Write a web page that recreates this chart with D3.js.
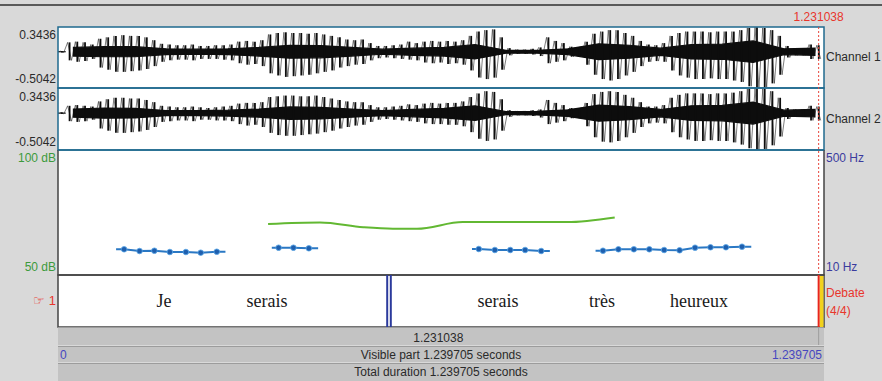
<!DOCTYPE html>
<html>
<head>
<meta charset="utf-8">
<title>Sound editor view</title>
<script src="https://d3js.org/d3.v7.min.js"></script>
<style>
  body { margin: 0; background: #d9d9d9; }
  svg { display: block; font-family: "Liberation Sans", Arial, sans-serif; }
</style>
</head>
<body>
<svg id="chart" width="882" height="381"></svg>
<script>
// ---- data ----
const duration = 1.239705;
const cursorTime = 1.231038;
const ampMax = 0.3436, ampMin = -0.5042;

// waveform peaks, one pair per 12.5 ms bin
const waveStep = 0.0125;
const ch1Hi = [0.01,0.13,0.14,0.13,0.10,0.18,0.20,0.22,0.23,0.22,
  0.22,0.20,0.16,0.11,0.10,0.09,0.09,0.10,0.08,0.08,
  0.09,0.09,0.10,0.14,0.15,0.14,0.16,0.24,0.26,0.27,
  0.26,0.26,0.25,0.26,0.24,0.22,0.20,0.17,0.16,0.17,
  0.12,0.08,0.08,0.09,0.10,0.14,0.12,0.14,0.15,0.14,
  0.15,0.14,0.16,0.22,0.28,0.30,0.31,0.20,0.05,0.03,
  0.03,0.04,0.06,0.20,0.15,0.12,0.07,0.06,0.14,0.25,
  0.28,0.30,0.30,0.26,0.22,0.15,0.10,0.09,0.12,0.22,
  0.26,0.28,0.28,0.28,0.27,0.28,0.28,0.28,0.30,0.33,
  0.34,0.33,0.30,0.22,0.08,0.05,0.05,0.10,0.09];
const ch1Lo = [-0.01,-0.12,-0.14,-0.13,-0.10,-0.22,-0.25,-0.28,-0.28,-0.27,
  -0.26,-0.24,-0.20,-0.14,-0.12,-0.11,-0.11,-0.12,-0.10,-0.10,
  -0.10,-0.11,-0.12,-0.16,-0.18,-0.17,-0.20,-0.30,-0.33,-0.35,
  -0.34,-0.33,-0.32,-0.30,-0.28,-0.26,-0.22,-0.20,-0.18,-0.17,
  -0.12,-0.09,-0.08,-0.09,-0.10,-0.11,-0.12,-0.15,-0.16,-0.15,
  -0.17,-0.16,-0.18,-0.26,-0.36,-0.38,-0.36,-0.25,-0.05,-0.03,
  -0.03,-0.04,-0.06,-0.16,-0.14,-0.12,-0.07,-0.06,-0.18,-0.32,
  -0.38,-0.40,-0.38,-0.33,-0.28,-0.20,-0.14,-0.13,-0.14,-0.26,
  -0.33,-0.36,-0.38,-0.38,-0.37,-0.38,-0.38,-0.40,-0.42,-0.48,
  -0.50,-0.49,-0.44,-0.32,-0.08,-0.05,-0.05,-0.10,-0.10];
const ch2Hi = [0.01,0.10,0.11,0.10,0.09,0.16,0.19,0.21,0.21,0.20,
  0.20,0.18,0.15,0.10,0.09,0.08,0.08,0.09,0.08,0.07,
  0.08,0.09,0.10,0.13,0.14,0.14,0.15,0.22,0.23,0.24,
  0.24,0.23,0.23,0.24,0.22,0.20,0.18,0.16,0.15,0.15,
  0.11,0.08,0.08,0.09,0.10,0.12,0.11,0.13,0.14,0.13,
  0.14,0.14,0.16,0.22,0.27,0.30,0.29,0.19,0.04,0.03,
  0.03,0.04,0.05,0.18,0.14,0.11,0.07,0.06,0.14,0.26,
  0.29,0.30,0.29,0.25,0.21,0.15,0.09,0.09,0.11,0.21,
  0.25,0.27,0.27,0.27,0.26,0.27,0.27,0.28,0.30,0.33,
  0.34,0.33,0.30,0.21,0.07,0.05,0.05,0.10,0.09];
const ch2Lo = [-0.01,-0.11,-0.12,-0.11,-0.09,-0.21,-0.24,-0.27,-0.27,-0.26,
  -0.25,-0.23,-0.19,-0.12,-0.11,-0.10,-0.10,-0.11,-0.09,-0.09,
  -0.10,-0.10,-0.11,-0.15,-0.17,-0.16,-0.19,-0.27,-0.30,-0.31,
  -0.31,-0.30,-0.29,-0.28,-0.26,-0.24,-0.21,-0.19,-0.17,-0.16,
  -0.12,-0.09,-0.08,-0.09,-0.10,-0.11,-0.12,-0.14,-0.15,-0.15,
  -0.16,-0.16,-0.18,-0.26,-0.35,-0.38,-0.36,-0.24,-0.05,-0.03,
  -0.03,-0.04,-0.06,-0.15,-0.13,-0.11,-0.07,-0.06,-0.18,-0.33,
  -0.39,-0.40,-0.38,-0.33,-0.27,-0.19,-0.14,-0.13,-0.14,-0.26,
  -0.33,-0.36,-0.38,-0.38,-0.37,-0.38,-0.38,-0.40,-0.43,-0.48,
  -0.50,-0.49,-0.44,-0.32,-0.08,-0.05,-0.05,-0.10,-0.10];

// dense core of the waveform, one value per 50 ms
const coreStep = 0.05;
const ch1Core = [0.06,0.07,0.07,0.04,0.035,0.04,0.06,0.09,0.085,0.06,0.035,0.05,0.06,
  0.10,0.02,0.02,0.04,0.11,0.09,0.05,0.10,0.105,0.15,0.04,0.05];
const ch2Core = [0.055,0.07,0.065,0.035,0.035,0.04,0.055,0.085,0.08,0.055,0.035,0.05,0.065,
  0.10,0.02,0.025,0.045,0.11,0.09,0.05,0.10,0.105,0.15,0.04,0.05];

// intensity (dB)
const intensityTimes = [0.340, 0.424, 0.494, 0.542, 0.581, 0.655, 0.824, 0.901];
const intensityDb = [70.3, 70.9, 69.0, 68.4, 68.4, 71.1, 71.1, 73.0];

// pitch (Hz), voiced stretches
const pitchStart = [0.094, 0.346, 0.670, 0.870];
const pitchEnd = [0.271, 0.421, 0.796, 1.122];
const pitchTimes = [
  [0.107, 0.132, 0.156, 0.181, 0.207, 0.231, 0.257],
  [0.357, 0.381, 0.406],
  [0.681, 0.707, 0.732, 0.756, 0.782],
  [0.882, 0.907, 0.932, 0.957, 0.981, 1.006, 1.031, 1.056, 1.081, 1.107]
];
const pitchHz = [
  [108.4, 101.6, 102.8, 97.6, 97.6, 94.9, 98.8],
  [114.8, 114.8, 112.4],
  [109.6, 105.6, 105.6, 105.6, 101.6],
  [102.8, 108.4, 108.4, 108.4, 105.6, 104.4, 114.8, 116.4, 116.4, 118.8]
];

// text grid tier
const boundaries = [0.5357];
const words = ["Je", "serais", "serais", "très", "heureux"];
const wordTimes = [0.1716, 0.3383, 0.7121, 0.8804, 1.0374];
const tierName = "Debate";
const tierCount = "(4/4)";

// ---- layout ----
const L = 58, R = 824;
const ch1 = [27, 88], ch2 = [88, 150], ana = [150, 275], tier = [275, 327];

const svg = d3.select("#chart");
const x = d3.scaleLinear().domain([0, duration]).range([L, R]);
const y1 = d3.scaleLinear().domain([ampMin, ampMax]).range([ch1[1], ch1[0]]);
const y2 = d3.scaleLinear().domain([ampMin, ampMax]).range([ch2[1], ch2[0]]);
const yDb = d3.scaleLinear().domain([50, 100]).range([274, 151]);
const yHz = d3.scaleLinear().domain([10, 500]).range([274, 151]);

svg.append("rect").attr("width", 882).attr("height", 381).attr("fill", "#d9d9d9");
svg.append("line").attr("x1", 0).attr("x2", 882).attr("y1", 5).attr("y2", 5)
  .attr("stroke", "#5a5a5a").attr("stroke-width", 2);

// white panels
svg.append("rect").attr("x", L).attr("y", ch1[0]).attr("width", R - L).attr("height", tier[1] - ch1[0])
  .attr("fill", "#fff");

svg.append("defs").append("clipPath").attr("id", "clipWave")
  .append("rect").attr("x", L).attr("y", ch1[0]).attr("width", R - L).attr("height", ch2[1] - ch1[0]);

function drawWave(hi, lo, core, y) {
  const g = svg.append("g").attr("clip-path", "url(#clipWave)");
  g.append("line").attr("x1", L).attr("x2", x(waveStep)).attr("y1", y(0)).attr("y2", y(0))
    .attr("stroke", "#111").attr("stroke-width", 1.2);
  // fuzzy oscillation between the peaks
  const pts = [];
  hi.forEach((h, i) => {
    const t = (i + 0.5) * waveStep;
    pts.push([t - waveStep / 4, h]);
    pts.push([t + waveStep / 4, lo[i]]);
  });
  g.append("path")
    .attr("d", d3.line().x(d => x(d[0])).y(d => y(d[1]))(pts))
    .attr("fill", "none").attr("stroke", "#333").attr("stroke-width", 0.8).attr("stroke-opacity", 0.8);
  // dense core
  g.append("path")
    .attr("d", d3.area().x((d, i) => x((i + 0.5) * coreStep)).y0(d => y(-d)).y1(d => y(d))(core))
    .attr("fill", "#0d0d0d").attr("stroke", "#0d0d0d").attr("stroke-width", 1.2);
  // pulse spikes
  g.selectAll(null).data(hi).enter().append("line")
    .attr("x1", (d, i) => x((i + 0.5) * waveStep)).attr("x2", (d, i) => x((i + 0.5) * waveStep))
    .attr("y1", d => y(d)).attr("y2", (d, i) => y(lo[i]))
    .attr("stroke", "#0d0d0d").attr("stroke-width", 1.8);
}
drawWave(ch1Hi, ch1Lo, ch1Core, y1);
drawWave(ch2Hi, ch2Lo, ch2Core, y2);

// channel borders
[ch1, ch2].forEach(c => {
  svg.append("rect").attr("x", L).attr("y", c[0]).attr("width", R - L).attr("height", c[1] - c[0])
    .attr("fill", "none").attr("stroke", "#1f6a8e").attr("stroke-width", 1.5);
});

// analysis panel border
svg.append("path")
  .attr("d", `M${L},${ana[0]}V${ana[1]}H${R}V${ana[0]}`)
  .attr("fill", "none").attr("stroke", "#444").attr("stroke-width", 1.5);
svg.append("line").attr("x1", L).attr("x2", R).attr("y1", ana[0]).attr("y2", ana[0])
  .attr("stroke", "#1f6a8e").attr("stroke-width", 1.5);

// intensity
svg.append("path")
  .attr("d", d3.line().curve(d3.curveMonotoneX).x(d => x(d)).y((d, i) => yDb(intensityDb[i]))(intensityTimes))
  .attr("fill", "none").attr("stroke", "#62b832").attr("stroke-width", 2);

// pitch
pitchTimes.forEach((ts, k) => {
  const hz = pitchHz[k];
  const pts = [[pitchStart[k], hz[0]]].concat(ts.map((t, i) => [t, hz[i]]), [[pitchEnd[k], hz[hz.length - 1]]]);
  svg.append("path")
    .attr("d", d3.line().x(d => x(d[0])).y(d => yHz(d[1]))(pts))
    .attr("fill", "none").attr("stroke", "#2a78c4").attr("stroke-width", 2);
  svg.selectAll(null).data(ts).enter().append("circle")
    .attr("cx", d => x(d)).attr("cy", (d, i) => yHz(hz[i])).attr("r", 2.8)
    .attr("fill", "#1f5fae").attr("stroke", "#5aa8e8").attr("stroke-width", 0.8);
});

// text tier
svg.append("rect").attr("x", L).attr("y", tier[0]).attr("width", R - L).attr("height", tier[1] - tier[0])
  .attr("fill", "none").attr("stroke", "#444").attr("stroke-width", 1.5);
svg.selectAll(null).data(words).enter().append("text")
  .attr("x", (d, i) => x(wordTimes[i])).attr("y", 307)
  .attr("text-anchor", "middle").attr("font-family", "'Liberation Serif', 'Times New Roman', serif")
  .attr("font-size", 18).attr("fill", "#1a1a1a").text(d => d);
boundaries.forEach(b => {
  [-1.8, 1.8].forEach(o => {
    svg.append("line").attr("x1", x(b) + o).attr("x2", x(b) + o).attr("y1", tier[0]).attr("y2", 329)
      .attr("stroke", "#2b3a9c").attr("stroke-width", 2);
  });
});

// bottom bars
const rows = [[327, 345], [346, 362], [363, 381]];
rows.forEach(r => {
  svg.append("rect").attr("x", L).attr("y", r[0]).attr("width", R - L).attr("height", r[1] - r[0])
    .attr("fill", "#c3c3c3");
  svg.append("line").attr("x1", L).attr("x2", R).attr("y1", r[0] + 0.5).attr("y2", r[0] + 0.5)
    .attr("stroke", "#9c9c9c");
});
svg.append("line").attr("x1", x(cursorTime)).attr("x2", x(cursorTime)).attr("y1", 327).attr("y2", 345)
  .attr("stroke", "#9c9c9c");

// cursor
svg.append("line").attr("x1", x(cursorTime)).attr("x2", x(cursorTime)).attr("y1", ch1[0]).attr("y2", tier[0])
  .attr("stroke", "#e8463c").attr("stroke-width", 1).attr("stroke-dasharray", "2,2");
svg.append("rect").attr("x", x(cursorTime) + 1).attr("y", tier[0] + 1).attr("width", R - x(cursorTime) - 1.5)
  .attr("height", tier[1] - tier[0] - 1).attr("fill", "#f2d21c");
svg.append("line").attr("x1", x(cursorTime)).attr("x2", x(cursorTime)).attr("y1", tier[0]).attr("y2", tier[1])
  .attr("stroke", "#e8261c").attr("stroke-width", 2);

// labels
function label(txt, xx, yy, anchor, color, size) {
  svg.append("text").attr("x", xx).attr("y", yy).attr("text-anchor", anchor)
    .attr("font-size", size || 12).attr("fill", color).text(txt);
}
const dark = "#2a2a2a", green = "#3c9a3c", navy = "#3b3b9e", red = "#e8362c";
label(d3.format(".6f")(cursorTime), x(cursorTime), 21, "middle", red);
label(ampMax, 56, 39, "end", dark);
label(ampMin, 56, 83, "end", dark);
label(ampMax, 56, 101, "end", dark);
label(ampMin, 56, 146, "end", dark);
label("Channel 1", 826, 61, "start", dark);
label("Channel 2", 826, 123, "start", dark);
label("100 dB", 56, 162, "end", green);
label("50 dB", 56, 271, "end", green);
label("500 Hz", 826, 162, "start", navy);
label("10 Hz", 826, 271, "start", navy);
label("\u261E 1", 56, 305, "end", red, 13);
label(tierName, 826, 297, "start", red);
label(tierCount, 826, 315, "start", red);
label(d3.format(".6f")(cursorTime), (L + x(cursorTime)) / 2, 342, "middle", dark);
label("0", 60, 359, "start", "#4646c0");
label(`Visible part ${duration} seconds`, (L + R) / 2, 359, "middle", dark);
label(duration, 822, 359, "end", "#4646c0");
label(`Total duration ${duration} seconds`, (L + R) / 2, 376, "middle", dark);
</script>
</body>
</html>
